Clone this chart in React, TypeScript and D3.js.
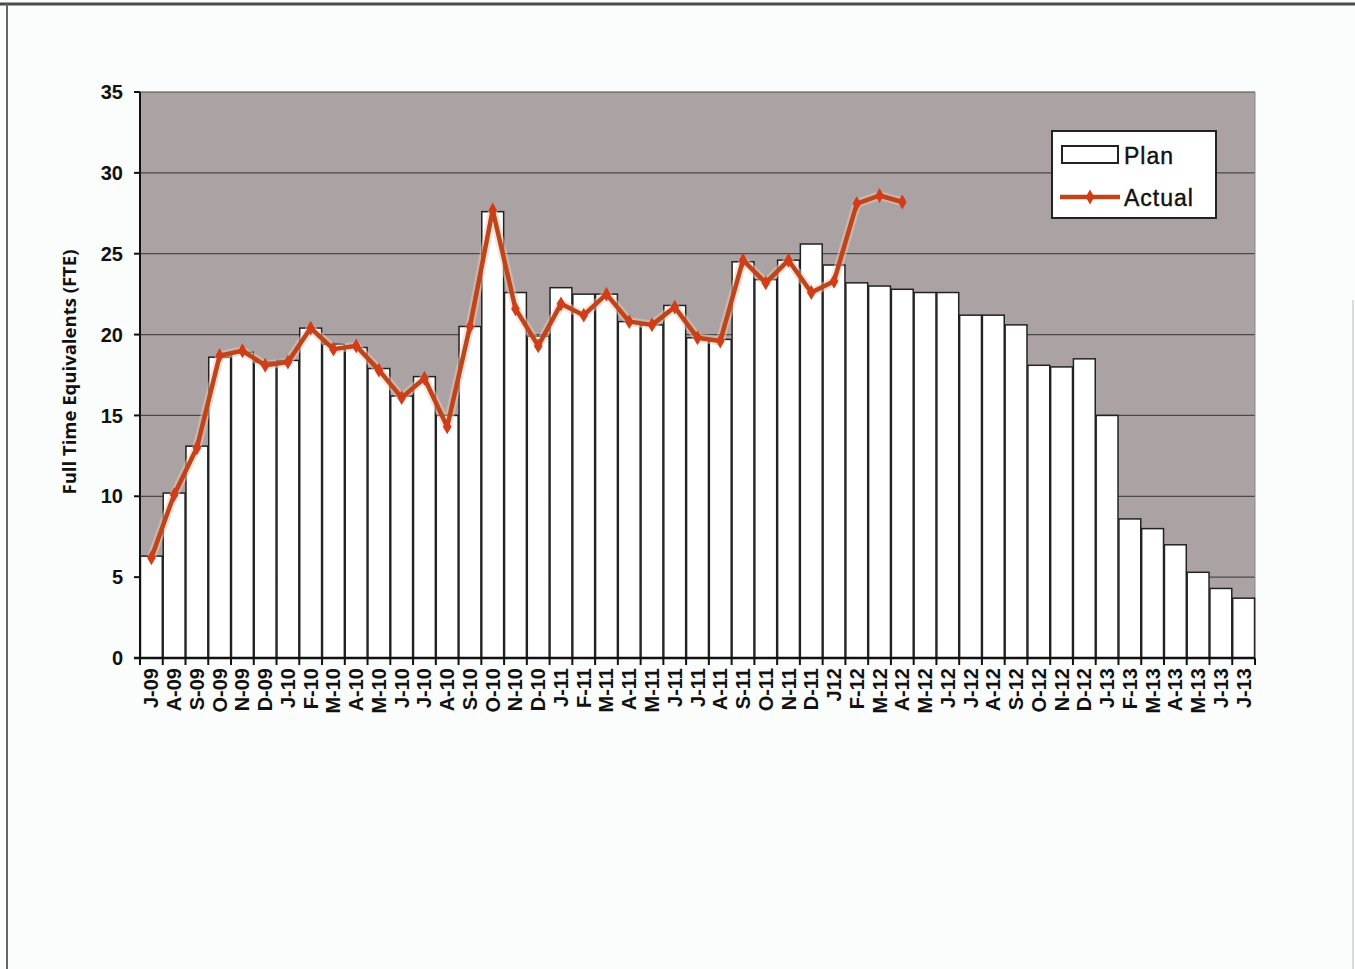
import React from 'react';
import * as d3 from 'd3';

const categories = [
  'J-09', 'A-09', 'S-09', 'O-09', 'N-09', 'D-09',
  'J-10', 'F-10', 'M-10', 'A-10', 'M-10', 'J-10', 'J-10', 'A-10', 'S-10', 'O-10', 'N-10', 'D-10',
  'J-11', 'F-11', 'M-11', 'A-11', 'M-11', 'J-11', 'J-11', 'A-11', 'S-11', 'O-11', 'N-11', 'D-11',
  'J12', 'F-12', 'M-12', 'A-12', 'M-12', 'J-12', 'J-12', 'A-12', 'S-12', 'O-12', 'N-12', 'D-12',
  'J-13', 'F-13', 'M-13', 'A-13', 'M-13', 'J-13', 'J-13',
];

const plan = [
  6.3, 10.2, 13.1, 18.6, 18.9, 18.3,
  18.4, 20.4, 19.4, 19.2, 17.9, 16.2, 17.4, 15.0, 20.5, 27.6, 22.6, 19.9,
  22.9, 22.5, 22.5, 20.8, 20.6, 21.8, 19.8, 19.7, 24.5, 23.4, 24.6, 25.6,
  24.3, 23.2, 23.0, 22.8, 22.6, 22.6, 21.2, 21.2, 20.6, 18.1, 18.0, 18.5,
  15.0, 8.6, 8.0, 7.0, 5.3, 4.3, 3.7,
];

// actual stops at A-12
const actual = [
  6.2, 10.1, 13.0, 18.7, 19.0, 18.1,
  18.3, 20.4, 19.1, 19.3, 17.8, 16.1, 17.3, 14.3, 20.5, 27.7, 21.6, 19.3,
  21.9, 21.2, 22.5, 20.8, 20.6, 21.7, 19.8, 19.6, 24.6, 23.2, 24.6, 22.6,
  23.3, 28.1, 28.6, 28.2,
];

const yTicks = [0, 5, 10, 15, 20, 25, 30, 35];

const W = 1355;
const H = 969;
const PLOT = { left: 140, right: 1255, top: 92, bottom: 658 };
const LINE_COLOR = '#bf431b';
const MARKER_COLOR = '#d23c18';

export default function App() {
  const keys = categories.map((_, i) => String(i));
  const x = d3.scaleBand<string>().domain(keys).range([PLOT.left, PLOT.right]).paddingInner(0.04).paddingOuter(0.02);
  const step = (PLOT.right - PLOT.left) / categories.length;
  const y = d3.scaleLinear().domain([0, 35]).range([PLOT.bottom, PLOT.top]);

  const cx = (i: number) => PLOT.left + step * i + step / 2;
  const line = d3.line<number>()
    .x((_, i) => cx(i))
    .y((d) => y(d));

  const diamond = d3.symbol().type(d3.symbolDiamond).size(64)();

  return (
    <svg
      width={W}
      height={H}
      style={{ position: 'absolute', left: 0, top: 0, background: '#fbfcfc' }}
      fontFamily="Arial, 'Liberation Sans', sans-serif"
    >
      {/* outer frame */}
      <line x1={0} x2={W} y1={4} y2={4} stroke="#4a4a4a" strokeWidth={3} />
      <line x1={7} x2={7} y1={4} y2={H} stroke="#666" strokeWidth={2} />
      <line x1={1353} x2={1353} y1={300} y2={H} stroke="#bbb" strokeWidth={1} />

      {/* plot background */}
      <rect x={PLOT.left} y={PLOT.top} width={PLOT.right - PLOT.left} height={PLOT.bottom - PLOT.top} fill="#aba3a3" />

      {/* gridlines */}
      {yTicks.filter((t) => t > 0).map((t) => (
        <line key={t} x1={PLOT.left} x2={PLOT.right} y1={y(t)} y2={y(t)} stroke="#4c4848" strokeWidth={1.2} />
      ))}
      <line x1={PLOT.right} x2={PLOT.right} y1={PLOT.top} y2={PLOT.bottom} stroke="#8a8484" strokeWidth={1} />

      {/* plan bars */}
      {plan.map((v, i) => (
        <rect
          key={i}
          x={x(String(i))}
          y={y(v)}
          width={x.bandwidth()}
          height={y(0) - y(v)}
          fill="#ffffff"
          stroke="#222"
          strokeWidth={1.5}
        />
      ))}

      {/* actual line */}
      <path d={line(actual) ?? ''} fill="none" stroke="#f0c8b0" strokeWidth={9} strokeLinejoin="round" opacity={0.5} />
      <path d={line(actual) ?? ''} fill="none" stroke={LINE_COLOR} strokeWidth={4.5} strokeLinejoin="round" />
      {actual.map((v, i) => (
        <path key={i} d={diamond} transform={`translate(${cx(i)},${y(v)})`} fill={MARKER_COLOR} />
      ))}

      {/* y axis */}
      <line x1={PLOT.left} x2={PLOT.left} y1={PLOT.top} y2={PLOT.bottom} stroke="#111" strokeWidth={2} />
      {yTicks.map((t) => (
        <g key={t} transform={`translate(0,${y(t)})`}>
          <line x1={PLOT.left - 6} x2={PLOT.left} stroke="#111" strokeWidth={2} />
          <text x={123} dy="0.36em" textAnchor="end" fontSize={20} fontWeight="bold" fill="#111">{t}</text>
        </g>
      ))}
      <text
        transform={`translate(76,${372}) rotate(-90)`}
        textAnchor="middle"
        fontFamily="'Open Sans', sans-serif"
        fontWeight="bold"
        fontSize={18}
        fill="#111"
        textLength={245}
        lengthAdjust="spacingAndGlyphs"
      >
        Full Time Equivalents (FTE)
      </text>

      {/* x axis */}
      <line x1={PLOT.left - 6} x2={PLOT.right} y1={PLOT.bottom} y2={PLOT.bottom} stroke="#111" strokeWidth={2.5} />
      {d3.range(categories.length + 1).map((i) => (
        <line key={i} x1={PLOT.left + step * i} x2={PLOT.left + step * i} y1={PLOT.bottom} y2={PLOT.bottom + 7} stroke="#111" strokeWidth={2} />
      ))}
      {categories.map((c, i) => (
        <text
          key={i}
          transform={`translate(${cx(i) + 7},${PLOT.bottom + 10}) rotate(-90)`}
          textAnchor="end"
          fontSize={20}
          fontWeight="bold"
          fill="#111"
        >
          {c}
        </text>
      ))}

      {/* legend */}
      <g transform="translate(1052,131)">
        <rect x={0} y={0} width={164} height={87} fill="#ffffff" stroke="#222" strokeWidth={2} />
        <rect x={10} y={15} width={56} height={17} fill="#ffffff" stroke="#222" strokeWidth={2} />
        <text x={72} y={33} fontSize={23} fill="#111" letterSpacing={1} stroke="#111" strokeWidth={0.4}>Plan</text>
        <line x1={8} x2={68} y1={66} y2={66} stroke={LINE_COLOR} strokeWidth={4.5} />
        <path d={diamond} transform="translate(38,66)" fill={MARKER_COLOR} />
        <text x={72} y={75} fontSize={23} fill="#111" letterSpacing={1} stroke="#111" strokeWidth={0.4}>Actual</text>
      </g>
    </svg>
  );
}
